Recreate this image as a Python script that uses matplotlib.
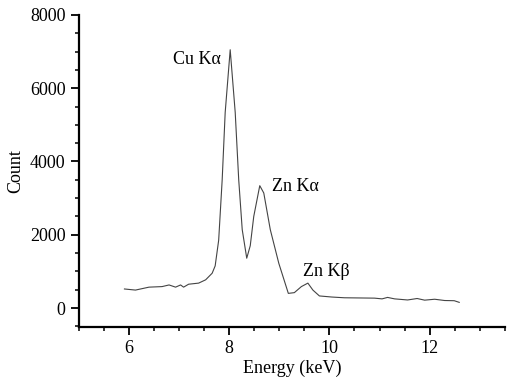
import matplotlib
matplotlib.use("Agg")
import matplotlib.pyplot as plt
from matplotlib.ticker import MultipleLocator

# ---- spectrum ----
energy = [5.91, 6.13, 6.40, 6.66, 6.80, 6.93, 7.03, 7.09, 7.19, 7.39, 7.53, 7.66,
          7.72, 7.79, 7.86, 7.92, 8.02, 8.12, 8.19, 8.26, 8.35, 8.42, 8.49, 8.61,
          8.69, 8.82, 8.99, 9.18, 9.30, 9.44, 9.57, 9.67, 9.80, 10.05, 10.30, 10.60,
          10.90, 11.05, 11.16, 11.30, 11.56, 11.75, 11.90, 12.10, 12.30, 12.49, 12.59]
count = [520, 490, 570, 585, 630, 570, 630, 570, 650, 680, 770, 950,
         1150, 1850, 3500, 5340, 7050, 5340, 3500, 2140, 1360, 1700, 2500, 3340,
         3140, 2140, 1220, 400, 420, 585, 680, 490, 330, 300, 280, 275,
         270, 250, 290, 250, 220, 260, 215, 240, 205, 200, 155]

peaks = ["Cu K\u03b1", "Zn K\u03b1", "Zn K\u03b2"]
peak_x = [7.35, 9.32, 9.94]
peak_y = [6780, 3330, 1010]

plt.rcParams.update({"font.family": "Liberation Serif", "font.size": 13})

fig = plt.figure(figsize=(5.12, 3.83), dpi=100)
ax = fig.add_axes([0.154, 0.146, 0.832, 0.815])
ax.plot(energy, count, color="#444444", lw=0.8)

for name, px, py in zip(peaks, peak_x, peak_y):
    ax.text(px, py, name, ha="center", va="center", fontsize=13)

ax.set_xlim(5.0, 13.5)
ax.set_ylim(-520, 8000)
ax.xaxis.set_major_locator(MultipleLocator(2))
ax.xaxis.set_minor_locator(MultipleLocator(0.5))
ax.yaxis.set_major_locator(MultipleLocator(2000))
ax.yaxis.set_minor_locator(MultipleLocator(500))
ax.tick_params(which="major", direction="out", length=6, width=1.3)
ax.tick_params(which="minor", direction="out", length=3, width=1.1)
for s in ["top", "right"]:
    ax.spines[s].set_visible(False)
for s in ["left", "bottom"]:
    ax.spines[s].set_linewidth(1.6)

ax.set_xlabel("Energy (keV)", labelpad=2)
ax.set_ylabel("Count", labelpad=4)

fig.savefig("out.png", dpi=100, facecolor="white")
